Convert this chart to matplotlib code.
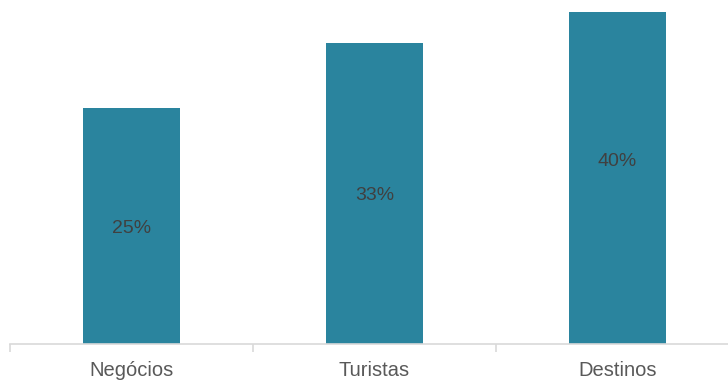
import numpy as np
import matplotlib.pyplot as plt

categories = ['Negócios', 'Turistas', 'Destinos']
values = [0.254, 0.325, 0.397]
labels = ['25%', '33%', '40%']

bar_color = '#2a849e'
axis_color = '#d9d9d9'

fig = plt.figure(figsize=(7.28, 3.80), dpi=100)
ax = fig.add_axes([10 / 728, 36 / 380, 729 / 728, 332 / 380])

x = np.arange(len(categories))
bars = ax.bar(x, values, width=0.4, color=bar_color)

for b, lab in zip(bars, labels):
    ax.text(b.get_x() + b.get_width() / 2, b.get_height() / 2, lab,
            ha='center', va='center_baseline', fontsize=14, color='#404040',
            family='Liberation Sans')

ax.set_xlim(-0.5, 2.5)
ax.set_ylim(0, 0.358)

for s in ['top', 'right', 'left']:
    ax.spines[s].set_visible(False)
ax.spines['bottom'].set_color(axis_color)
ax.spines['bottom'].set_linewidth(1.2)

ax.set_yticks([])
ax.set_xticks(x)
ax.set_xticklabels(categories, fontsize=14.5, color='#595959', family='Liberation Sans')
ax.tick_params(axis='x', which='major', length=0, pad=12)
ax.set_xticks([-0.5, 0.5, 1.5, 2.5], minor=True)
ax.tick_params(axis='x', which='minor', length=6, color=axis_color, width=1.2)

fig.savefig('out.png', dpi=100)
